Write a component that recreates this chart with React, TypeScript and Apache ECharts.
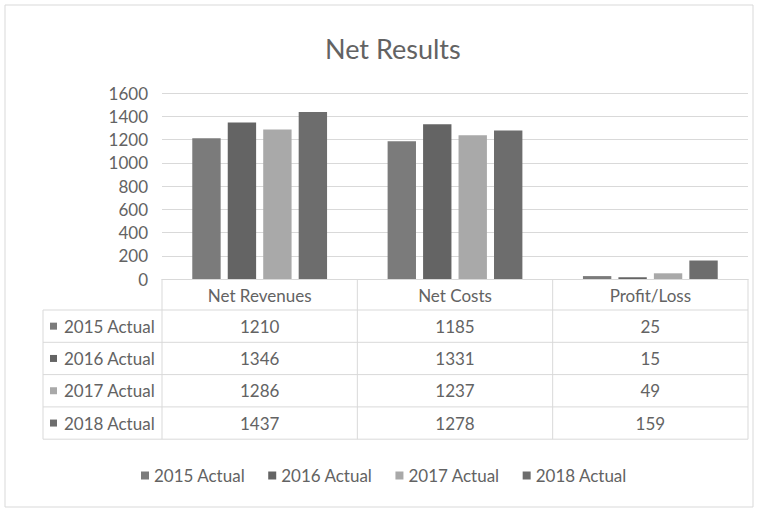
import React, { useEffect, useRef } from "react";
import * as echarts from "echarts";

const chartTitle = "Net Results";
const categories = ["Net Revenues", "Net Costs", "Profit/Loss"];
const seriesNames = ["2015 Actual", "2016 Actual", "2017 Actual", "2018 Actual"];
const values2015 = [1210, 1185, 25];
const values2016 = [1346, 1331, 15];
const values2017 = [1286, 1237, 49];
const values2018 = [1437, 1278, 159];
const seriesValues = [values2015, values2016, values2017, values2018];
const yMin = 0;
const yMax = 1600;
const yInterval = 200;

const colors = ["#7b7b7b", "#646464", "#a9a9a9", "#6d6d6d"];
const textColor = "#636363";
const lineColor = "#d9d9d9";
const fontFamily = "Lato, 'Noto Sans', sans-serif";

export default function App() {
  const ref = useRef<HTMLDivElement>(null);

  useEffect(() => {
    if (!ref.current) return;
    const chart = echarts.init(ref.current, null, { renderer: "svg" });
    chart.setOption({
      animation: false,
      backgroundColor: "#ffffff",
      title: {
        text: chartTitle,
        left: 325,
        top: 35,
        padding: 0,
        textStyle: { color: textColor, fontSize: 27, fontWeight: "normal", fontFamily },
      },
      legend: {
        data: seriesNames,
        left: 136,
        top: 462,
        icon: "rect",
        itemWidth: 8,
        itemHeight: 8,
        itemGap: 23,
        textStyle: { color: textColor, fontSize: 17, fontFamily },
      },
      grid: { left: 162, right: 12, top: 93, bottom: 231, containLabel: false },
      xAxis: {
        type: "category",
        data: categories,
        axisLine: { show: true, lineStyle: { color: lineColor } },
        axisTick: { show: false },
        axisLabel: { color: textColor, fontSize: 17, fontFamily, margin: 8 },
      },
      yAxis: {
        type: "value",
        min: yMin,
        max: yMax,
        interval: yInterval,
        axisLine: { show: false },
        axisTick: { show: false },
        axisLabel: {
          color: textColor,
          fontSize: 17,
          fontFamily,
          margin: 14,
          formatter: (v: number) => String(v),
        },
        splitLine: { lineStyle: { color: lineColor } },
      },
      series: seriesNames.map((name, i) => ({
        name,
        type: "bar",
        data: seriesValues[i],
        barGap: "25%",
        barCategoryGap: "31%",
        itemStyle: { color: colors[i] },
      })),
    });

    // Data table drawn under the plot, positioned via the chart's own scales
    const xs = categories.map((c) => chart.convertToPixel({ xAxisIndex: 0 }, c) as number);
    const band = xs.length > 1 ? xs[1] - xs[0] : 195;
    const y0 = chart.convertToPixel({ yAxisIndex: 0 }, yMin) as number;
    const bounds = [xs[0] - band / 2, ...xs.map((x) => x + band / 2)];
    const tableLeft = 43;
    const rowTop = y0 + 31;
    const rowH = 32.3;
    const tableBottom = rowTop + rowH * seriesNames.length;
    const elements: any[] = [];
    const line = (x1: number, y1: number, x2: number, y2: number) => ({
      type: "line",
      silent: true,
      shape: { x1, y1, x2, y2 },
      style: { stroke: lineColor, lineWidth: 1 },
    });
    bounds.forEach((bx) => elements.push(line(bx, y0, bx, tableBottom)));
    elements.push(line(tableLeft, rowTop, tableLeft, tableBottom));
    for (let r = 0; r <= seriesNames.length; r++) {
      const y = rowTop + r * rowH;
      elements.push(line(tableLeft, y, bounds[bounds.length - 1], y));
    }
    seriesNames.forEach((name, r) => {
      const cy = rowTop + r * rowH + rowH / 2;
      elements.push({
        type: "rect",
        silent: true,
        shape: { x: tableLeft + 7, y: cy - 3.5, width: 7, height: 7 },
        style: { fill: colors[r] },
      });
      elements.push({
        type: "text",
        silent: true,
        x: tableLeft + 21,
        y: cy,
        style: {
          text: name,
          fill: textColor,
          fontSize: 17,
          fontFamily,
          align: "left",
          textAlign: "left",
          verticalAlign: "middle",
          textVerticalAlign: "middle",
        },
      });
      seriesValues[r].forEach((v, c) => {
        elements.push({
          type: "text",
          silent: true,
          x: xs[c],
          y: cy,
          style: {
            text: String(v),
            fill: textColor,
            fontSize: 17,
            fontFamily,
            align: "center",
            textAlign: "center",
            verticalAlign: "middle",
            textVerticalAlign: "middle",
          },
        });
      });
    });
    elements.push({
      type: "rect",
      silent: true,
      shape: { x: 5, y: 5, width: 748, height: 502 },
      style: { fill: "none", stroke: lineColor, lineWidth: 1 },
    });
    chart.setOption({ graphic: elements });

    return () => chart.dispose();
  }, []);

  return (
    <div
      ref={ref}
      style={{ position: "fixed", left: 0, top: 0, width: 760, height: 510 }}
    />
  );
}
